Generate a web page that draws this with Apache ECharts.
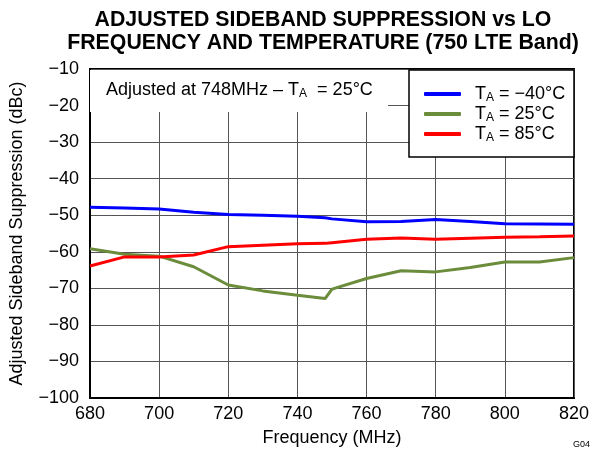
<!DOCTYPE html>
<html>
<head>
<meta charset="utf-8">
<script src="https://cdn.jsdelivr.net/npm/echarts@6/dist/echarts.min.js"></script>
<style>
  html, body { margin: 0; padding: 0; background: #fff; }
  #main { width: 592px; height: 452px; }
</style>
</head>
<body>
<div id="main"></div>
<script>
// frequency points (MHz)
var freq = [680, 690, 700, 710, 720, 730, 740, 748, 750, 760, 770, 780, 790, 800, 810, 820];
// sideband suppression (dBc) per temperature
var tMinus40 = [-47.8, -48.0, -48.3, -49.2, -49.8, -50.0, -50.3, -50.7, -51.0, -51.8, -51.7, -51.2, -51.7, -52.3, -52.4, -52.5];
var t25 = [-59.2, -60.7, -61.2, -64.1, -69.1, -70.7, -71.9, -72.8, -70.2, -67.3, -65.2, -65.5, -64.3, -62.8, -62.8, -61.6];
var t85 = [-63.9, -61.4, -61.4, -60.9, -58.6, -58.2, -57.8, -57.7, -57.5, -56.6, -56.2, -56.6, -56.3, -56.0, -55.9, -55.7];
var seriesNames = ['-40', '25', '85'];
var seriesLabels = ['\u221240\u00b0C', '25\u00b0C', '85\u00b0C'];

var FONT = '"Liberation Sans", Arial, sans-serif';

function pairs(ys) {
  return freq.map(function (f, i) { return [f, ys[i]]; });
}
function minus(v) {
  return String(v).replace('-', '\u2212');
}

var chart = echarts.init(document.getElementById('main'), null, { renderer: 'canvas' });

var colors = ['#0000ff', '#6b8c3a', '#ff0000'];
var data = [tMinus40, t25, t85];

var series = data.map(function (d, i) {
  return {
    name: seriesNames[i],
    type: 'line',
    data: pairs(d),
    showSymbol: false,
    symbol: 'none',
    lineStyle: { color: colors[i], width: 3 },
    itemStyle: { color: colors[i] },
    z: 3
  };
});

// subscript rich style shared by legend & note
var richTxt = {
  t: { fontFamily: FONT, fontSize: 18, color: '#000', fill: '#000', lineHeight: 20 },
  s: { fontFamily: FONT, fontSize: 12, color: '#000', fill: '#000', lineHeight: 20, verticalAlign: 'bottom', padding: [7, 0, 0, 0] }
};

chart.setOption({
  animation: false,
  backgroundColor: '#fff',
  textStyle: { fontFamily: FONT },
  title: {
    text: 'ADJUSTED SIDEBAND SUPPRESSION vs LO\nFREQUENCY AND TEMPERATURE (750 LTE Band)',
    left: 318,
    top: 4,
    textAlign: 'center',
    textStyle: { fontFamily: FONT, fontWeight: 'bold', fontSize: 21.3, lineHeight: 23, color: '#000' }
  },
  grid: {
    left: 89, right: 17, top: 69, bottom: 53,
    show: true, borderColor: '#000', borderWidth: 2, backgroundColor: 'transparent'
  },
  legend: {
    orient: 'vertical',
    left: 419,
    top: 80,
    itemWidth: 37,
    itemHeight: 4,
    itemGap: 1,
    icon: 'roundRect',
    z: 10,
    data: seriesNames,
    formatter: function (name) {
      var i = seriesNames.indexOf(name);
      return '{t|T}{s|A}{t| = ' + seriesLabels[i] + '}';
    },
    textStyle: {
      fontFamily: FONT,
      fontSize: 18,
      color: '#000',
      padding: [0, 0, 0, 9],
      rich: richTxt
    }
  },
  xAxis: {
    type: 'value',
    min: 680, max: 820, interval: 20,
    name: 'Frequency (MHz)',
    nameLocation: 'middle',
    nameGap: 31,
    nameTextStyle: { fontFamily: FONT, fontSize: 18, color: '#000' },
    axisLine: { show: true, lineStyle: { color: '#000', width: 2 } },
    axisTick: { show: false },
    axisLabel: { fontFamily: FONT, fontSize: 18, color: '#000', margin: 7 },
    splitLine: { show: true, lineStyle: { color: '#555', width: 1 } }
  },
  yAxis: {
    type: 'value',
    min: -100, max: -10, interval: 10,
    name: 'Adjusted Sideband Suppression (dBc)',
    nameLocation: 'middle',
    nameGap: 64,
    nameTextStyle: { fontFamily: FONT, fontSize: 18, color: '#000' },
    axisLine: { show: true, lineStyle: { color: '#000', width: 2 } },
    axisTick: { show: false },
    axisLabel: { fontFamily: FONT, fontSize: 18, color: '#000', margin: 11, formatter: minus },
    splitLine: { show: true, lineStyle: { color: '#555', width: 1 } }
  },
  graphic: [
    // annotation box (hides the gridlines behind the note)
    {
      type: 'rect', z: 5,
      shape: { x: 90, y: 70, width: 298, height: 42 },
      style: { fill: '#fff', stroke: null }
    },
    {
      type: 'text', z: 6, left: 106, top: 81,
      style: {
        text: '{t|Adjusted at 748MHz \u2013 T}{s|A}{t|  = 25\u00b0C}',
        fill: '#000',
        rich: richTxt
      }
    },
    // legend box
    {
      type: 'rect', z: 5,
      shape: { x: 409, y: 70, width: 165, height: 87 },
      style: { fill: '#fff', stroke: '#000', lineWidth: 1.5 }
    },
    {
      type: 'text', z: 6, right: 2, top: 440,
      style: { text: 'G04', fontFamily: FONT, fontSize: 9, fill: '#000' }
    }
  ],
  series: series
});
</script>
</body>
</html>
